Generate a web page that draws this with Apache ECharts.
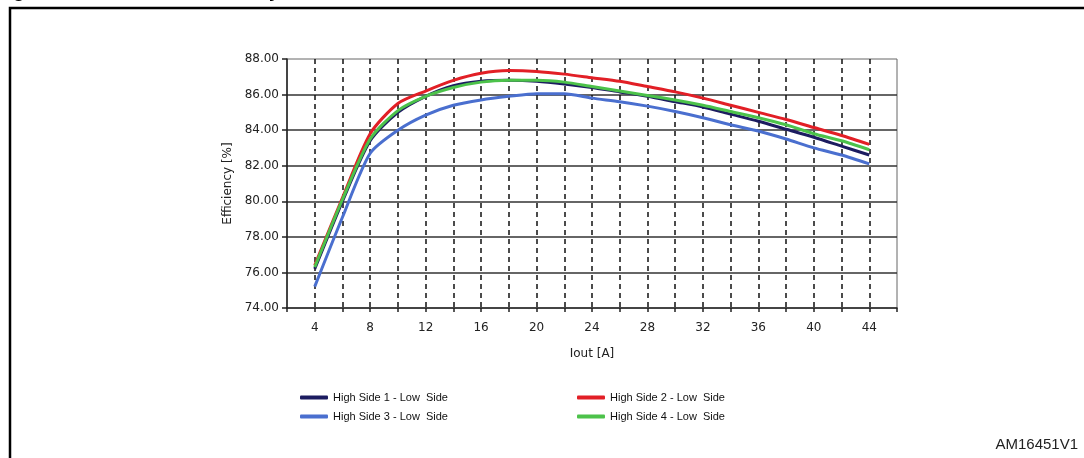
<!DOCTYPE html>
<html>
<head>
<meta charset="utf-8">
<script src="https://cdn.jsdelivr.net/npm/echarts@6/dist/echarts.min.js"></script>
<style>
  html, body { margin: 0; padding: 0; background: #fff; }
  #chart { width: 1084px; height: 458px; }
</style>
</head>
<body>
<div id="chart"></div>
<script>
// Iout [A] sample points
const iout = [4, 6, 8, 10, 12, 14, 16, 18, 20, 22, 24, 26, 28, 30, 32, 34, 36, 38, 40, 42, 44];

// efficiency [%] per configuration
const hs1 = [76.2, 80.0, 83.4, 85.0, 85.9, 86.5, 86.75, 86.8, 86.75, 86.6, 86.4, 86.15, 85.9, 85.6, 85.3, 84.9, 84.5, 84.05, 83.6, 83.1, 82.6];
const hs2 = [76.4, 80.2, 83.8, 85.5, 86.2, 86.8, 87.2, 87.35, 87.3, 87.15, 86.95, 86.75, 86.45, 86.15, 85.8, 85.4, 85.0, 84.6, 84.15, 83.7, 83.2];
const hs3 = [75.2, 79.1, 82.7, 84.0, 84.85, 85.4, 85.7, 85.9, 86.05, 86.05, 85.8, 85.6, 85.35, 85.05, 84.7, 84.3, 83.95, 83.5, 83.0, 82.6, 82.1];
const hs4 = [76.3, 80.1, 83.5, 85.1, 85.9, 86.4, 86.7, 86.8, 86.8, 86.7, 86.45, 86.2, 85.95, 85.7, 85.4, 85.05, 84.7, 84.3, 83.8, 83.4, 82.9];

const names = ['High Side 1 - Low  Side', 'High Side 2 - Low  Side', 'High Side 3 - Low  Side', 'High Side 4 - Low  Side'];
const colors = ['#1c1c60', '#e21f26', '#4a6fcf', '#4cc24a'];
const values = [hs1, hs2, hs3, hs4];

const chart = echarts.init(document.getElementById('chart'));

const legendPos = [[295, 387], [572, 387], [295, 406], [572, 406]];

chart.setOption({
  animation: false,
  grid: {
    left: 287, top: 59, right: 187, bottom: 150,
    show: true, borderColor: '#666', borderWidth: 1
  },
  legend: names.map((n, i) => ({
    data: [n],
    left: legendPos[i][0],
    top: legendPos[i][1],
    itemWidth: 28,
    itemHeight: 4,
    icon: 'roundRect',
    textStyle: { fontFamily: 'Liberation Sans, Arial', fontSize: 11, color: '#111' }
  })),
  xAxis: {
    type: 'value',
    min: 2, max: 46, interval: 2,
    name: 'Iout [A]',
    nameLocation: 'middle',
    nameGap: 40,
    nameTextStyle: { fontFamily: 'DejaVu Sans', fontSize: 12, color: '#222' },
    axisLine: { lineStyle: { color: '#222', width: 1.5 } },
    axisTick: { length: 4, lineStyle: { color: '#222', width: 1.5 } },
    axisLabel: {
      margin: 14,
      fontFamily: 'DejaVu Sans', fontSize: 12, color: '#222',
      formatter: v => (v % 4 === 0 && v >= 4 && v <= 44) ? String(v) : ''
    },
    splitLine: {
      show: true, showMinLine: false, showMaxLine: false,
      lineStyle: { color: '#111', width: 1.5, type: [5, 4] }
    }
  },
  yAxis: {
    type: 'value',
    min: 74, max: 88, interval: 2,
    name: 'Efficiency [%]',
    nameLocation: 'middle',
    nameGap: 53,
    nameTextStyle: { fontFamily: 'DejaVu Sans', fontSize: 12, color: '#222' },
    axisLine: { show: true, lineStyle: { color: '#222', width: 1.5 } },
    axisTick: { show: true, length: 5, lineStyle: { color: '#222', width: 1.5 } },
    axisLabel: {
      margin: 8,
      fontFamily: 'DejaVu Sans', fontSize: 12, color: '#222',
      formatter: v => v.toFixed(2)
    },
    splitLine: {
      show: true, showMinLine: false, showMaxLine: false,
      lineStyle: { color: '#333', width: 1.5 }
    }
  },
  series: values.map((vals, i) => ({
    name: names[i],
    type: 'line',
    smooth: 0.25,
    showSymbol: false,
    color: colors[i],
    lineStyle: { width: 3, color: colors[i] },
    data: iout.map((x, k) => [x, vals[k]])
  })),
  graphic: [
    {
      type: 'rect',
      shape: { x: 10, y: 8, width: 1100, height: 470 },
      style: { fill: 'none', stroke: '#000', lineWidth: 2.5 },
      silent: true
    },
    {
      type: 'text',
      left: -4, top: -18,
      style: {
        text: 'Figure 12. Test board efficiency',
        font: 'bold 19px Liberation Sans, Arial',
        fill: '#000'
      }
    },
    {
      type: 'text',
      right: 6, top: 437,
      style: {
        text: 'AM16451V1',
        font: '15px Liberation Sans, Arial',
        fill: '#222'
      }
    }
  ]
});
</script>
</body>
</html>
